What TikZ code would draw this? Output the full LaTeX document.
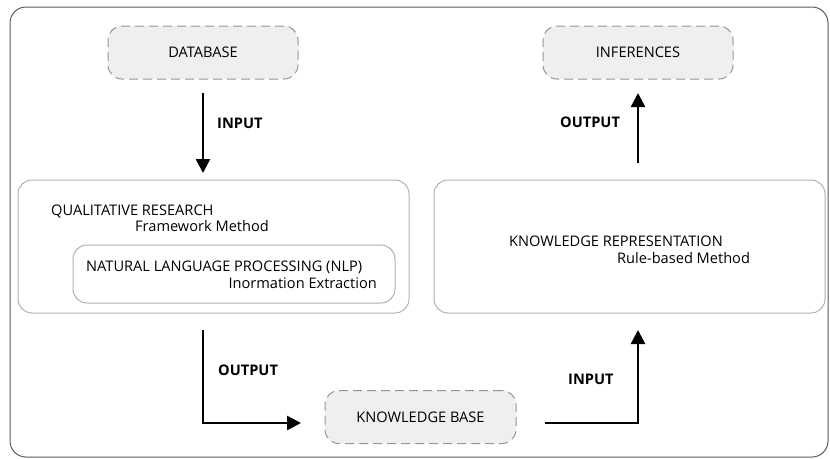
\documentclass[tikz,border=0pt]{standalone}
\usepackage{fontspec}
\setmainfont{Open Sans}
\usetikzlibrary{arrows.meta}
\definecolor{boxfill}{HTML}{EFEFEF}
\definecolor{dashcol}{HTML}{959595}
\definecolor{solidcol}{HTML}{B0B0B0}
\definecolor{framecol}{HTML}{5A5A5A}
\tikzset{
  termbox/.style={draw=dashcol, fill=boxfill, dash pattern=on 9pt off 5pt, line width=1pt, rounded corners=14pt, inner sep=0pt},
  solidbox/.style={draw=solidcol, line width=1pt, rounded corners=14pt, inner sep=0pt},
  txt/.style={anchor=base west, inner sep=0pt, font=\fontsize{14.6}{17}\selectfont},
  lbl/.style={anchor=base west, inner sep=0pt, font=\bfseries\fontsize{14.6}{17}\selectfont},
  flow/.style={line width=2.5pt, -{Triangle[width=14pt,length=14pt]}}
}
\begin{document}
\begin{tikzpicture}[x=1pt,y=-1pt]
\useasboundingbox (0,0) rectangle (830,458);
\node[draw=framecol, line width=1pt, rounded corners=16pt, minimum width=818pt, minimum height=450pt, inner sep=0pt] (frame) at (419,232) {};
% dashed terminals
\node[termbox, minimum width=190pt, minimum height=53pt] (db) at (203,52.5) {};
\node[txt, anchor=base] (dbt) at (203,57.5) {DATABASE};
\node[termbox, minimum width=190pt, minimum height=53pt] (inf) at (638,52.5) {};
\node[txt, anchor=base] (inft) at (638,57.5) {INFERENCES};
\node[termbox, minimum width=191pt, minimum height=53pt] (kb) at (420.5,417) {};
\node[txt, anchor=base] (kbt) at (420.5,422) {KNOWLEDGE BASE};
% left box
\node[solidbox, minimum width=391pt, minimum height=133pt] (qr) at (213.5,246.5) {};
\node[txt] (qrt) at (51,215) {QUALITATIVE RESEARCH};
\node[txt] (fmt) at (135,231) {Framework Method};
\node[solidbox, minimum width=322pt, minimum height=58pt] (nlp) at (234,274) {};
\node[txt] (nlpt) at (86,271) {NATURAL LANGUAGE PROCESSING (NLP)};
\node[txt, anchor=base east] (iet) at (377,288) {Inormation Extraction};
% right box
\node[solidbox, minimum width=391pt, minimum height=133pt] (kr) at (629.5,246.5) {};
\node[txt] (krt) at (509,246) {KNOWLEDGE REPRESENTATION};
\node[txt] (rbt) at (617,263) {Rule-based Method};
% arrows
\coordinate (a1s) at (203,93);
\coordinate (a1e) at (203,173);
\draw[flow] (a1s) -- (a1e);
\node[lbl] (l1) at (217,128) {INPUT};
\coordinate (a2s) at (203,330);
\coordinate (a2c) at (203,423);
\coordinate (a2e) at (301,423);
\draw[flow] (a2s) -- (a2c) -- (a2e);
\node[lbl] (l2) at (218,375) {OUTPUT};
\coordinate (a3s) at (545,423);
\coordinate (a3c) at (638,423);
\coordinate (a3e) at (638,330);
\draw[flow] (a3s) -- (a3c) -- (a3e);
\node[lbl] (l3) at (568,384) {INPUT};
\coordinate (a4s) at (638,163);
\coordinate (a4e) at (638,93);
\draw[flow] (a4s) -- (a4e);
\node[lbl] (l4) at (560,127) {OUTPUT};
\end{tikzpicture}
\end{document}
